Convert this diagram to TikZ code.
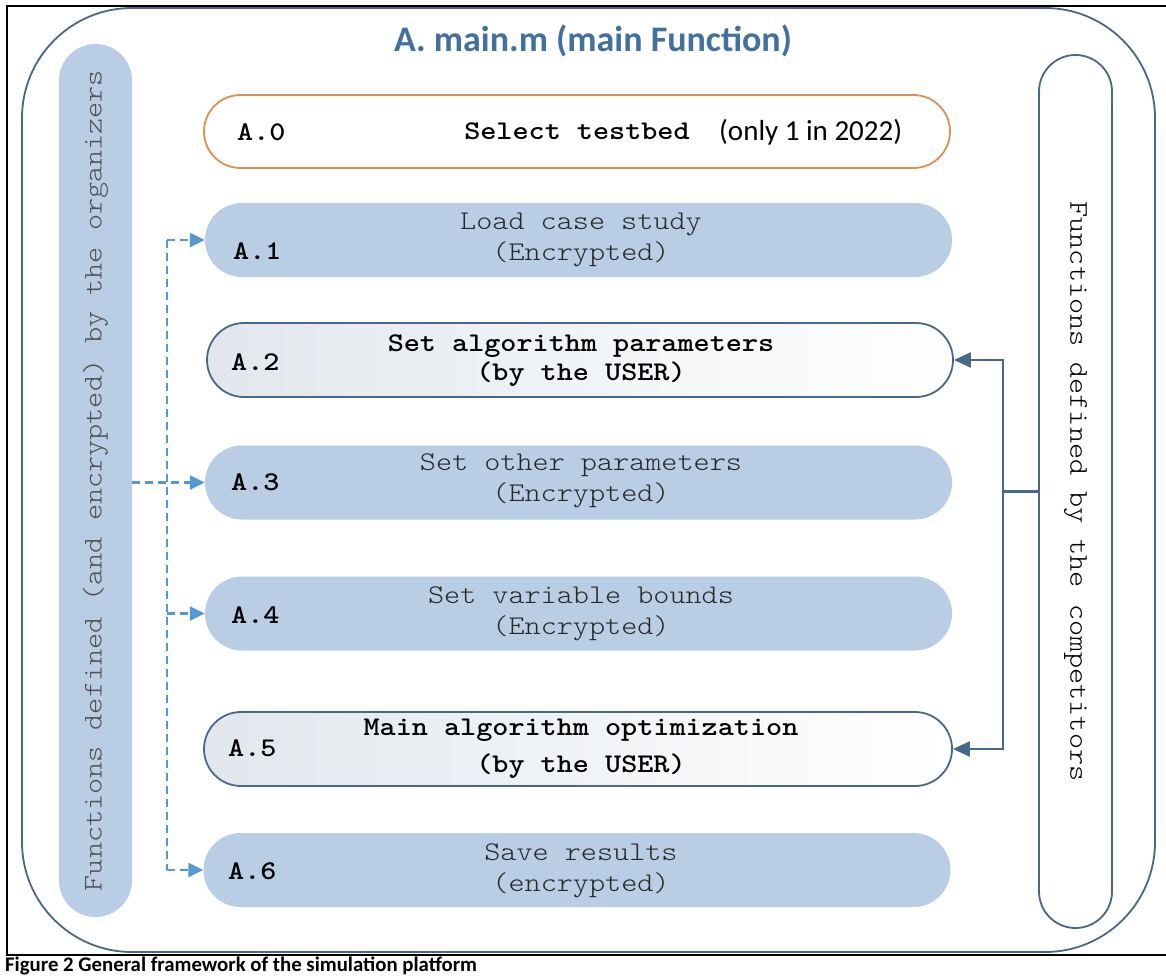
\documentclass[tikz,border=0pt]{standalone}
\usepackage{fontspec}
\setmainfont{Carlito}
\newfontfamily\cour{lmmonolt10-regular}[Extension=.otf, BoldFont=lmmonolt10-bold, FakeStretch=1.136]
\usetikzlibrary{shapes.misc,arrows.meta}
\definecolor{slate}{RGB}{72,104,138}
\definecolor{boxblue}{RGB}{185,205,229}
\definecolor{orangeline}{RGB}{224,142,82}
\definecolor{dashblue}{RGB}{86,152,212}
\definecolor{titleblue}{RGB}{68,112,158}
\definecolor{txtgray}{RGB}{40,40,40}
\definecolor{sidegray}{RGB}{80,80,80}
\definecolor{userleft}{RGB}{226,231,237}
\begin{document}
\begin{tikzpicture}[x=1pt,y=-1pt,
  pill/.style={rounded rectangle, minimum width=747pt, minimum height=74pt, inner sep=0pt},
  bluebox/.style={pill, fill=boxblue},
  userbox/.style={pill, draw=slate, line width=1.8pt, left color=userleft, right color=white},
  selbox/.style={pill, draw=orangeline, line width=1.8pt, fill=white},
  monotext/.style={font=\cour\fontsize{27}{31}\selectfont, align=center, text=txtgray, inner sep=0pt},
  usertext/.style={font=\cour\bfseries\fontsize{27}{31}\selectfont, align=center, text=black, inner sep=0pt},
  labeltext/.style={font=\cour\bfseries\fontsize{27}{31}\selectfont, anchor=west, text=black, inner sep=0pt},
  dasharrow/.style={draw=dashblue, line width=2.4pt, dash pattern=on 8pt off 5pt, -{Triangle[length=15pt,width=14pt]}},
  dashline/.style={draw=dashblue, line width=2.4pt, dash pattern=on 8pt off 5pt},
  solidarrow/.style={draw=slate, line width=2.2pt, -{Triangle[length=17pt,width=15pt]}},
  solidline/.style={draw=slate, line width=2.2pt},
  sidepill/.style={rounded rectangle, minimum width=873pt, minimum height=73pt, inner sep=0pt, font=\cour\fontsize{27}{31}\selectfont}
]
\useasboundingbox (0,0) rectangle (1166,977);
\fill[white] (0,0) rectangle (1166,977);

% frame lines
\draw[black, line width=1.3pt] (7,6) -- (1166,6);
\draw[black, line width=1.3pt] (7,955) -- (1166,955);
\draw[black, line width=2.6pt] (7,5) -- (7,956);
\draw[black, line width=2.6pt] (7,6) -- (21,6);
\draw[black, line width=2.6pt] (7,955) -- (21,955);
\draw[black, line width=2.6pt] (1157,6) -- (1166,6);
\draw[black, line width=2.6pt] (1157,955) -- (1166,955);

% outer container
\node[draw=slate, line width=1.8pt, rounded corners=110pt, minimum width=1133pt, minimum height=944pt, inner sep=0pt] (outer) at (588.5,480) {};

\node[font=\bfseries\fontsize{36}{40}\selectfont, text=titleblue, anchor=base] (title) at (593,51) {A. main.m (main Function)};

% side pills
\node[sidepill, fill=boxblue, rotate=90, text=sidegray] (org) at (95.5,480.5) {Functions defined (and encrypted) by the organizers};
\node[sidepill, draw=slate, line width=1.8pt, fill=white, rotate=-90, text=black] (comp) at (1075.5,491.5) {Functions defined by the competitors};

% A.0
\node[selbox, minimum width=746pt, minimum height=73pt] (b0) at (577,131.5) {};
\node[labeltext] (l0) at (237,132) {A.0};
\node[usertext] (t0) at (577,131) {Select testbed};
\node[font=\fontsize{29}{33}\selectfont, anchor=west, inner sep=0pt] (n0) at (719,132) {(only 1 in 2022)};

% A.1
\node[bluebox] (b1) at (578.5,240) {};
\node[labeltext] (l1) at (233,251) {A.1};
\node[monotext] (t1) at (581,240) {Load case study\\(Encrypted)};

% A.2
\node[userbox, minimum width=746pt] (b2) at (580,360) {};
\node[labeltext] (l2) at (231,362) {A.2};
\node[usertext] (t2) at (581,361) {Set algorithm parameters\\[-2pt](by the USER)};

% A.3
\node[bluebox] (b3) at (578.5,482.5) {};
\node[labeltext] (l3) at (231,482) {A.3};
\node[monotext] (t3) at (581,481) {Set other parameters\\(Encrypted)};

% A.4
\node[bluebox] (b4) at (578.5,613.5) {};
\node[labeltext] (l4) at (231,615) {A.4};
\node[monotext] (t4) at (581,614) {Set variable bounds\\(Encrypted)};

% A.5
\node[userbox, minimum width=748pt] (b5) at (578,749) {};
\node[labeltext] (l5) at (228,748) {A.5};
\node[usertext] (t5) at (581,749) {Main algorithm optimization\\[6pt](by the USER)};

% A.6
\node[bluebox] (b6) at (577,870) {};
\node[labeltext] (l6) at (228,871) {A.6};
\node[monotext] (t6) at (581,871) {Save results\\(encrypted)};

% dashed connectors (organizers)
\coordinate (dtop) at (167,240);
\coordinate (dbot) at (167,870);
\draw[dashline] (dtop) -- (dbot);
\draw[dasharrow] (dtop) -- (b1.west);
\draw[dasharrow] (dtop |- b4.west) -- (b4.west);
\draw[dasharrow] (dbot) -- (b6.west);
\draw[dasharrow] (org.south |- b3.west) -- (b3.west);

% solid connectors (competitors)
\coordinate (rv) at (1003,491.5);
\draw[solidline] (comp.south) -- (rv);
\draw[solidarrow] (rv) -- (rv |- b2.east) -- (b2.east);
\draw[solidarrow] (rv) -- (rv |- b5.east) -- (b5.east);

% caption
\node[font=\bfseries\fontsize{20.8}{24}\selectfont, anchor=base west, inner sep=0pt] (cap) at (5,971) {Figure 2 General framework of the simulation platform};
\end{tikzpicture}
\end{document}
